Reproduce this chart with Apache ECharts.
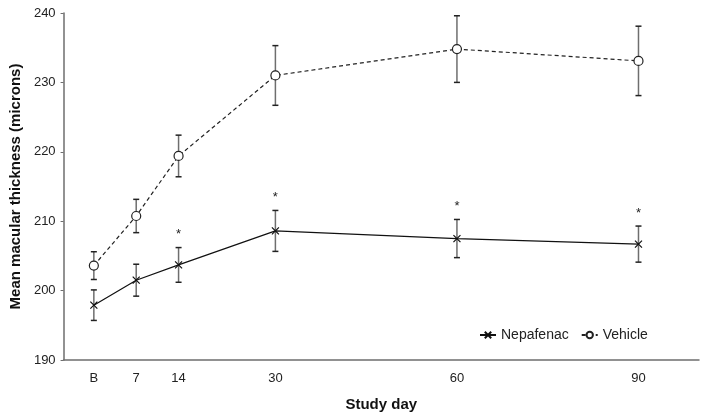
<!DOCTYPE html>
<html><head><meta charset="utf-8">
<script src="https://cdn.jsdelivr.net/npm/echarts@6/dist/echarts.min.js"></script>
<style>html,body{margin:0;padding:0;background:#fff}#c{width:707px;height:419px}</style>
</head><body><div id="c"></div>
<script>
const days = [0, 7, 14, 30, 60, 90];
const dayLabels = ['B', '7', '14', '30', '60', '90'];
const nepMean = [197.9, 201.5, 203.7, 208.6, 207.5, 206.7];
const nepErr = [2.2, 2.3, 2.5, 2.95, 2.75, 2.6];
const vehMean = [203.6, 210.75, 219.4, 231.0, 234.8, 233.1];
const vehErr = [2.0, 2.4, 3.0, 4.3, 4.8, 5.0];
const nepSig = [0, 0, 1, 1, 1, 1];

const chart = echarts.init(document.getElementById('c'));
const FONT = 'Liberation Sans, Arial, sans-serif';

function errData(mean, err, sig) {
  return days.map((d, i) => [d, mean[i] - err[i], mean[i] + err[i], sig ? sig[i] : 0]);
}
function errRender(params, api) {
  const x = api.value(0);
  const lo = api.coord([x, api.value(1)]);
  const hi = api.coord([x, api.value(2)]);
  const w = 3;
  const children = [
    { type: 'line', shape: { x1: lo[0], y1: lo[1], x2: hi[0], y2: hi[1] }, style: { stroke: '#6e6e6e', lineWidth: 1.5 } },
    { type: 'line', shape: { x1: lo[0] - w, y1: lo[1], x2: lo[0] + w, y2: lo[1] }, style: { stroke: '#222', lineWidth: 1.5 } },
    { type: 'line', shape: { x1: hi[0] - w, y1: hi[1], x2: hi[0] + w, y2: hi[1] }, style: { stroke: '#222', lineWidth: 1.5 } }
  ];
  if (api.value(3)) {
    children.push({ type: 'text', style: { text: '*', x: hi[0], y: hi[1] - 13, align: 'center', verticalAlign: 'middle', fontSize: 13, fontFamily: FONT, fill: '#222' } });
  }
  return { type: 'group', children };
}
const xSym = 'path://M0,0L10,10M10,0L0,10';

chart.setOption({
  animation: false,
  backgroundColor: '#fff',
  grid: { left: 61, right: 8, top: 13, bottom: 59 },
  legend: {
    left: 474, top: 323, itemWidth: 16, itemHeight: 8, itemGap: 12,
    textStyle: { fontSize: 14, fontFamily: FONT, color: '#222' },
    data: ['Nepafenac', 'Vehicle']
  },
  xAxis: {
    type: 'value', min: -5, max: 100,
    name: 'Study day', nameLocation: 'middle', nameGap: 37,
    nameTextStyle: { fontSize: 15, fontWeight: 'bold', fontFamily: FONT, color: '#111' },
    splitLine: { show: false },
    axisLine: { onZero: false, lineStyle: { color: '#6e6e6e', width: 1.5 } },
    axisTick: { show: false },
    axisLabel: {
      customValues: days,
      formatter: v => { const i = days.indexOf(v); return i >= 0 ? dayLabels[i] : ''; },
      fontSize: 13, fontFamily: FONT, color: '#222', margin: 12
    }
  },
  yAxis: {
    type: 'value', min: 190, max: 240, interval: 10,
    name: 'Mean macular thickness (microns)', nameLocation: 'middle', nameGap: 40,
    nameTextStyle: { fontSize: 15, fontWeight: 'bold', fontFamily: FONT, color: '#111' },
    splitLine: { show: false },
    axisLine: { show: true, onZero: false, lineStyle: { color: '#6e6e6e', width: 1.5 } },
    axisTick: { show: true, length: 3, lineStyle: { color: '#6e6e6e' } },
    axisLabel: { fontSize: 13, fontFamily: FONT, color: '#222', margin: 8 }
  },
  series: [
    {
      name: 'Nepafenac', type: 'line', data: days.map((d, i) => [d, nepMean[i]]),
      symbol: xSym, symbolSize: 7, z: 3,
      lineStyle: { color: '#111', width: 1.2, type: 'solid' },
      itemStyle: { color: '#111', borderColor: '#111', borderWidth: 1.2 }
    },
    {
      name: 'Vehicle', type: 'line', data: days.map((d, i) => [d, vehMean[i]]),
      symbol: 'circle', symbolSize: 9, z: 3,
      lineStyle: { color: '#222', width: 1.2, type: [4, 3] },
      itemStyle: { color: '#fff', borderColor: '#222', borderWidth: 1.2 }
    },
    {
      type: 'custom', name: 'nepErr', renderItem: errRender, data: errData(nepMean, nepErr, nepSig),
      encode: { x: 0, y: [1, 2] }, z: 2, silent: true
    },
    {
      type: 'custom', name: 'vehErr', renderItem: errRender, data: errData(vehMean, vehErr, null),
      encode: { x: 0, y: [1, 2] }, z: 2, silent: true
    }
  ]
});
</script>
</body></html>
